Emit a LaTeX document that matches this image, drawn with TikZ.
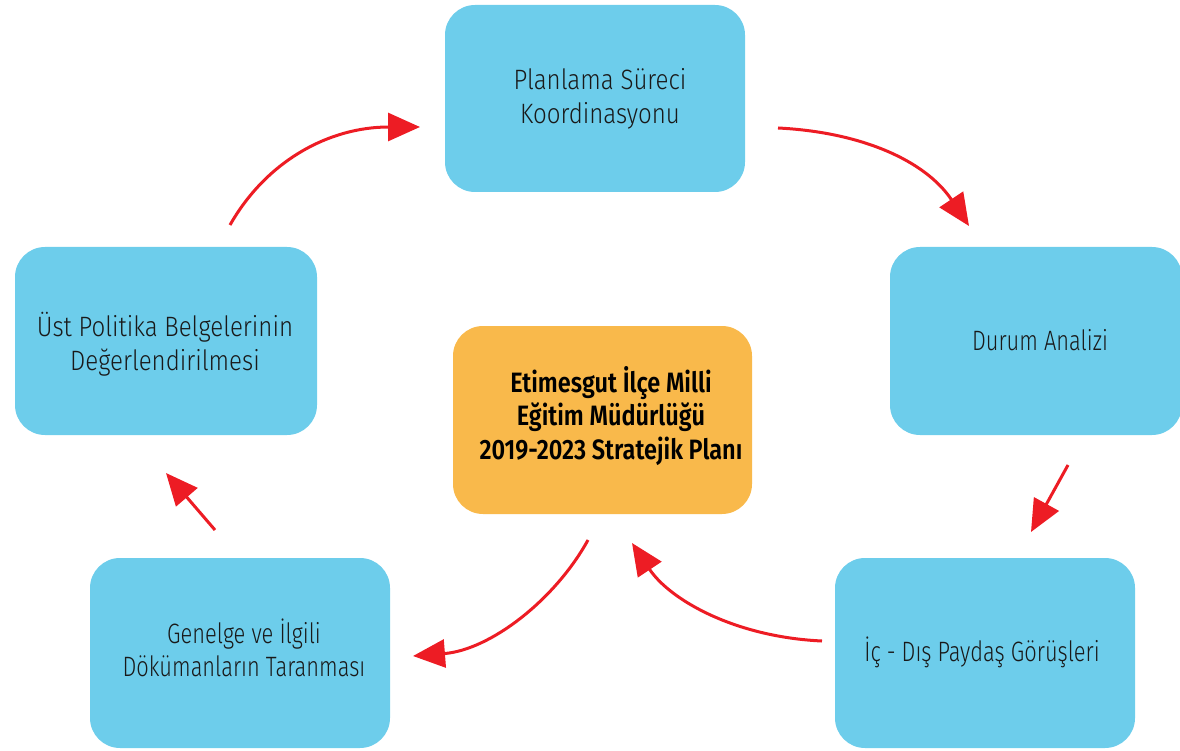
\documentclass[tikz,border=0pt]{standalone}
\usepackage{fontspec}
\usetikzlibrary{arrows.meta}
\newfontfamily\lightf{Fira Sans Light}[FakeStretch=0.78]
\newfontfamily\lightw{Fira Sans Light}[FakeStretch=0.86]
\newfontfamily\boldf{Fira Sans SemiBold}[FakeStretch=0.84]
\definecolor{boxblue}{HTML}{6DCDEB}
\definecolor{boxorange}{HTML}{F9B94B}
\definecolor{arrred}{HTML}{ED1C24}
\tikzset{
  stepbox/.style={fill=boxblue, rounded corners=30pt, inner sep=0pt},
  centerbox/.style={fill=boxorange, rounded corners=30pt, inner sep=0pt},
  steptext/.style={align=center, inner sep=0pt, text=black!90, font=\lightf\fontsize{28}{33}\selectfont},
  steptextw/.style={steptext, font=\lightw\fontsize{28}{34}\selectfont},
  centertext/.style={align=center, inner sep=0pt, font=\boldf\fontsize{28}{33.5}\selectfont},
  flow/.style={draw=arrred, line width=3pt, -{Triangle[length=32pt,width=28pt]}},
}
\begin{document}
\begin{tikzpicture}[x=1pt,y=-1pt]
\useasboundingbox (0,0) rectangle (1180,751);
% boxes
\node[stepbox, minimum width=300pt, minimum height=187pt] (plan) at (595,98.5) {};
\node[steptextw] (planT) at (600,99) {Planlama Süreci\\Koordinasyonu};
\node[stepbox, minimum width=292pt, minimum height=188pt] (durum) at (1036,341) {};
\node[steptext] (durumT) at (1040,340) {Durum Analizi};
\node[stepbox, minimum width=300pt, minimum height=190pt] (ic) at (985,653) {};
\node[steptext] (icT) at (982,652) {İç - Dış Paydaş Görüşleri};
\node[stepbox, minimum width=300pt, minimum height=190pt] (gen) at (240,653) {};
\node[steptext] (genT) at (244,648) {Genelge ve İlgili\\Dökümanların Taranması};
\node[stepbox, minimum width=302pt, minimum height=188pt] (ust) at (166,341) {};
\node[steptextw] (ustT) at (165,344) {Üst Politika Belgelerinin\\Değerlendirilmesi};
\node[centerbox, minimum width=299pt, minimum height=188pt] (mid) at (602.5,420) {};
\node[centertext] (midT) at (611,416) {Etimesgut İlçe Milli\\Eğitim Müdürlüğü\\2019-2023 Stratejik Planı};
% arrow end points
\coordinate (a1s) at (230,225); \coordinate (a1e) at (420,127);
\coordinate (a2s) at (778,128); \coordinate (a2e) at (969,226);
\coordinate (a3s) at (1068,465); \coordinate (a3e) at (1031,532);
\coordinate (a4s) at (822,641); \coordinate (a4e) at (632,543);
\coordinate (a5s) at (588,540); \coordinate (a5e) at (413,656);
\coordinate (a6s) at (215,530); \coordinate (a6e) at (166,473);
\draw[flow] (a1s) .. controls (267,160) and (330,127) .. (a1e);
\draw[flow] (a2s) .. controls (860,132) and (925,160) .. (a2e);
\draw[flow] (a3s) -- (a3e);
\draw[flow] (a4s) .. controls (735,637) and (670,600) .. (a4e);
\draw[flow] (a5s) .. controls (555,600) and (490,650) .. (a5e);
\draw[flow] (a6s) -- (a6e);
\end{tikzpicture}
\end{document}
